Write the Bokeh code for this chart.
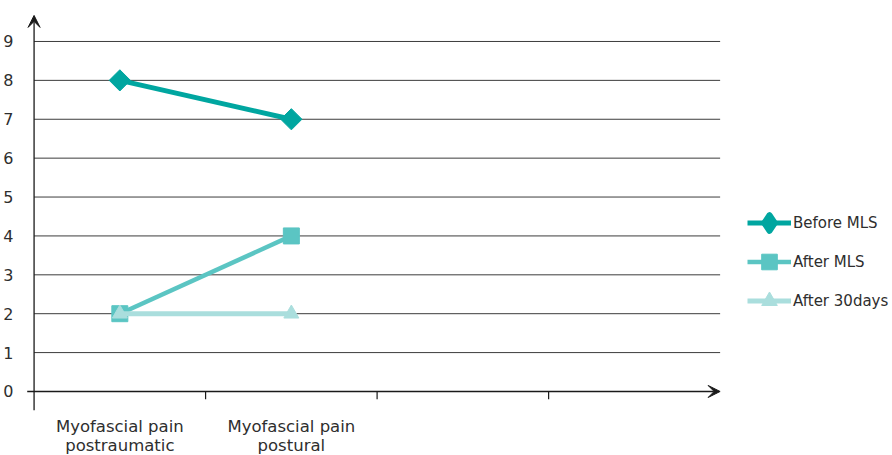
import math
from bokeh.plotting import figure
from bokeh.models import (Range1d, FixedTicker, Arrow, VeeHead, Legend, LegendItem)
from bokeh.embed import file_html
from bokeh.resources import INLINE

# ---- data ----
categories = ["Myofascial pain\npostraumatic", "Myofascial pain\npostural"]
n_bands = 4
series_names = ["Before MLS", "After MLS", "After 30days"]
before_mls = [8, 7]
after_mls = [2, 4]
after_30days = [2, 2]
y_ticks = [0, 1, 2, 3, 4, 5, 6, 7, 8, 9]

FONT = "DejaVu Sans"
TXT = "#2e2e2e"
AX = "#1a1a1a"
C1, C2, C3 = "#00A6A0", "#5BC5C3", "#AADEDD"

xs = [i + 0.5 for i in range(len(categories))]

p = figure(frame_width=867, frame_height=398, output_backend="svg",
           toolbar_location=None,
           x_range=Range1d(-0.05, 5.005), y_range=Range1d(-0.489, 9.745),
           min_border_left=17, min_border_right=0, min_border_top=12,
           min_border_bottom=36)
p.outline_line_color = None

# horizontal grid lines, limited to the plotting bands
p.xgrid.visible = False
p.ygrid.visible = False
gy = y_ticks[1:]
p.segment(x0=[0] * len(gy), y0=gy, x1=[n_bands] * len(gy), y1=gy,
          line_color="#3c3c3c", line_width=1)

# y axis: labels only, line drawn as arrow at x=0
p.yaxis.ticker = FixedTicker(ticks=y_ticks)
p.yaxis.axis_line_color = None
p.yaxis.major_tick_line_color = None
p.yaxis.minor_tick_line_color = None
p.yaxis.major_label_standoff = 6
p.yaxis.major_label_text_font = FONT
p.yaxis.major_label_text_font_size = "16px"
p.yaxis.major_label_text_color = TXT

# x axis: labels only, line drawn as arrow at y=0
p.xaxis.ticker = FixedTicker(ticks=xs)
p.xaxis.major_label_overrides = {x: c for x, c in zip(xs, categories)}
p.xaxis.axis_line_color = None
p.xaxis.major_tick_line_color = None
p.xaxis.minor_tick_line_color = None
p.xaxis.major_label_standoff = 0
p.xaxis.major_label_text_font = FONT
p.xaxis.major_label_text_font_size = "16.5px"
p.xaxis.major_label_text_line_height = 1.0
p.xaxis.major_label_text_color = TXT

head = dict(size=12, fill_color=AX, line_color=AX)
p.add_layout(Arrow(x_start=-0.04, y_start=0, x_end=n_bands, y_end=0,
                   line_color=AX, line_width=1.3, end=VeeHead(**head)))
p.add_layout(Arrow(x_start=0, y_start=-0.489, x_end=0, y_end=9.67,
                   line_color=AX, line_width=1.3, end=VeeHead(**head)))
bx = list(range(1, n_bands))
p.segment(x0=bx, y0=[0] * len(bx), x1=bx, y1=[-0.2] * len(bx),
          line_color=AX, line_width=1.2)

# series
r1l = p.line(xs, before_mls, line_color=C1, line_width=5)
# small diamond hidden under the rotated square: used for the legend glyph
r1k = p.scatter(xs, before_mls, marker="diamond", size=4,
                fill_color=C1, line_color=C1, line_width=6, line_join="round")
r1m = p.scatter(xs, before_mls, marker="square", angle=math.pi / 4, size=15,
                fill_color=C1, line_color=C1)
r2l = p.line(xs, after_mls, line_color=C2, line_width=4.5)
r2m = p.scatter(xs, after_mls, marker="square", size=16,
                fill_color=C2, line_color=C2)
r3l = p.line(xs, after_30days, line_color=C3, line_width=5)
r3m = p.scatter(xs, after_30days, marker="triangle", size=15,
                fill_color=C3, line_color=C3)

legend = Legend(items=[
    LegendItem(label=series_names[0], renderers=[r1l, r1k]),
    LegendItem(label=series_names[1], renderers=[r2l, r2m]),
    LegendItem(label=series_names[2], renderers=[r3l, r3m]),
], location=(722, 90), glyph_width=44, glyph_height=39, spacing=0, padding=0,
    margin=0, label_standoff=2, border_line_color=None, background_fill_alpha=0,
    label_text_font=FONT, label_text_font_size="15px", label_text_color=TXT)
p.add_layout(legend, "center")

open("out.html", "w").write(file_html(p, INLINE))
